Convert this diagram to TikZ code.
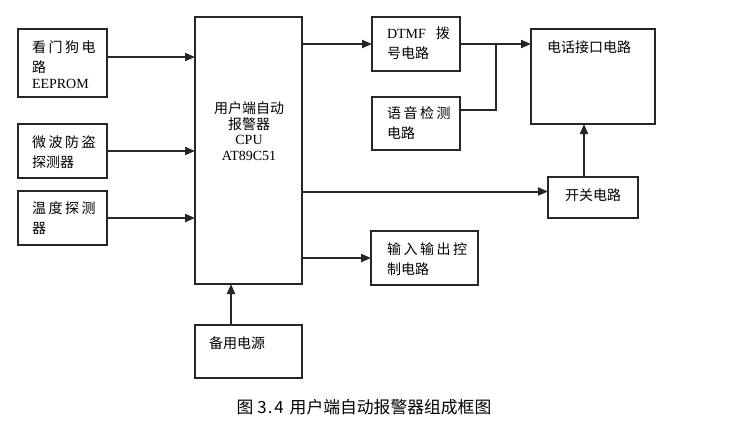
\documentclass[tikz,border=0pt]{standalone}
\usepackage{fontspec}
\setmainfont{Noto Sans CJK SC}
\newfontfamily\tm{Liberation Serif}
\newfontfamily\cjks[LetterSpace=18]{Noto Sans CJK SC}
\usetikzlibrary{arrows.meta,calc}
\tikzset{
  box/.style={draw=black!85, line width=1.4pt, rectangle, inner sep=0pt, outer sep=0pt, anchor=north west},
  txt/.style={inner sep=0pt, outer sep=0pt, anchor=north west, align=left, font=\fontsize{14}{20}\selectfont},
  conn/.style={line width=2pt, draw=black!85},
  arr/.style={conn, -{Triangle[length=10pt,width=8pt]}},
}
\begin{document}
\begin{tikzpicture}[x=1pt,y=-1pt]
\useasboundingbox (0,0) rectangle (731,429);
% boxes
\node[box, minimum width=89pt, minimum height=68pt] (b1) at (18,29) {};
\node[box, minimum width=89pt, minimum height=54pt] (b2) at (18,124) {};
\node[box, minimum width=89pt, minimum height=54pt] (b3) at (18,191) {};
\node[box, minimum width=107pt, minimum height=267pt] (cpu) at (195,17) {};
\node[box, minimum width=88pt, minimum height=54pt] (dtmf) at (372,17) {};
\node[box, minimum width=88pt, minimum height=53pt] (voice) at (372,97) {};
\node[box, minimum width=124pt, minimum height=95pt] (tel) at (531,29) {};
\node[box, minimum width=90pt, minimum height=41pt] (sw) at (548,177) {};
\node[box, minimum width=107pt, minimum height=54pt] (io) at (371,231) {};
\node[box, minimum width=107pt, minimum height=53pt] (pw) at (195,325) {};
% texts
\node[txt] (t1) at (32,41) {{\cjks 看门狗电}\\路\\[-4pt]{\tm EEPROM}};
\node[txt] (t2) at (32,136) {{\cjks 微波防盗}\\探测器};
\node[txt] (t3) at (32,202) {{\cjks 温度探测}\\器};
\node[txt, align=center, anchor=north, font=\fontsize{14}{15.5}\selectfont] (tc) at (249,102) {用户端自动\\报警器\\{\tm CPU}\\{\tm AT89C51}};
\node[txt] (td) at (387,27) {{\tm DTMF}\hspace{10pt}拨\\号电路};
\node[txt] (tv) at (387,107) {{\cjks 语音检测}\\电路};
\node[txt] (tt) at (547,41) {电话接口电路};
\node[txt] (ts) at (565,189) {开关电路};
\node[txt] (ti) at (387,243) {{\cjks 输入输出控}\\制电路};
\node[txt] (tp) at (209,337) {备用电源};
\node[inner sep=0pt, font=\fontsize{16.8}{18}\selectfont] (cap) at (364,407) {图\hspace{4pt}3\hspace{1pt}.\hspace{2pt}4\hspace{6pt}用户端自动报警器组成框图};
% connectors
\draw[arr] ([yshift=6pt]b1.east) -- ([yshift=6pt]b1.east -| cpu.west);
\draw[arr] (b2.east) -- (b2.east -| cpu.west);
\draw[arr] (b3.east) -- (b3.east -| cpu.west);
\draw[arr] (dtmf.west -| cpu.east) -- (dtmf.west);
\draw[arr] (dtmf.east) -- (dtmf.east -| tel.west);
\coordinate (j) at ($(dtmf.east)+(36,0)$);
\draw[conn] ([yshift=13.5pt]voice.east) -| (j);
\draw[arr] ([yshift=6pt]sw.west -| cpu.east) -- ([yshift=6pt]sw.west);
\draw[arr] ([xshift=-9pt]sw.north) -- ([xshift=-9pt]sw.north |- tel.south);
\draw[arr] (io.west -| cpu.east) -- (io.west);
\draw[arr] ([xshift=-17.5pt]pw.north) -- ([xshift=-17.5pt]pw.north |- cpu.south);
\end{tikzpicture}
\end{document}
